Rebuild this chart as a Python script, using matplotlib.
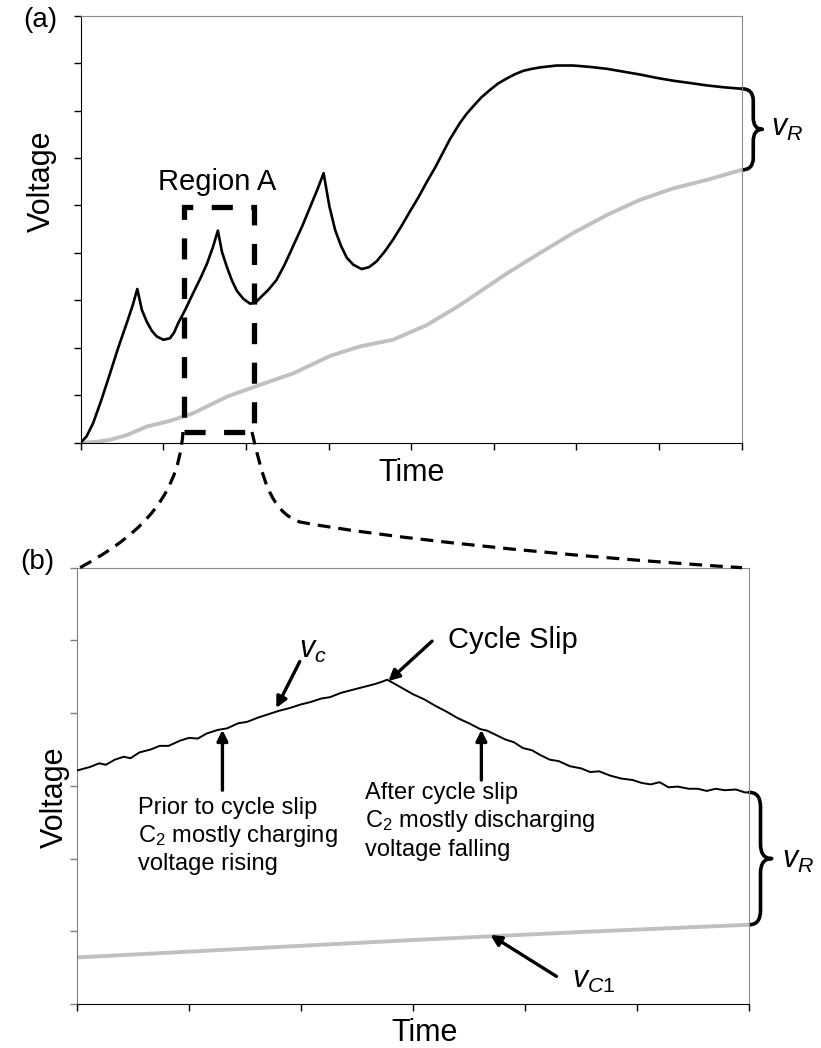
import matplotlib
matplotlib.use("Agg")
import matplotlib.pyplot as plt
from matplotlib.path import Path
from matplotlib.patches import PathPatch, Rectangle

plt.rcParams['font.family'] = ['Liberation Sans', 'DejaVu Sans']
plt.rcParams['mathtext.fontset'] = 'custom'
plt.rcParams['mathtext.rm'] = 'Liberation Sans'
plt.rcParams['mathtext.it'] = 'Liberation Sans:italic'

# (a) full transient: control voltage v_c (black) and v_C1 (grey)
t_a = [0, 0.07, 0.15, 0.25, 0.355, 0.45, 0.557, 0.63, 0.685, 0.74, 0.8, 0.86, 0.92, 1.0,
       1.08, 1.13, 1.18, 1.27, 1.36, 1.45, 1.53, 1.60, 1.66, 1.71, 1.77, 1.83, 1.89, 1.97,
       2.05, 2.12, 2.17, 2.27, 2.37, 2.47, 2.57, 2.68, 2.78, 2.87, 2.94, 3.01, 3.08, 3.15,
       3.22, 3.30, 3.40, 3.49, 3.58, 3.68, 3.78, 3.88, 3.98, 4.09, 4.19, 4.29, 4.38, 4.47,
       4.59, 4.67, 4.75, 4.85, 4.95, 5.05, 5.16, 5.26, 5.36, 5.46, 5.56, 5.76, 5.96, 6.17,
       6.37, 6.57, 6.77, 6.97, 7.17, 7.38, 7.58, 7.79, 8.0]
vc_a = [0, 0.13, 0.41, 0.9, 1.46, 1.98, 2.52, 2.9, 3.24, 2.8, 2.55, 2.36, 2.24, 2.17,
        2.2, 2.32, 2.52, 2.82, 3.15, 3.47, 3.78, 4.12, 4.47, 4.02, 3.7, 3.42, 3.2, 3.03,
        2.93, 2.96, 3.05, 3.22, 3.43, 3.76, 4.14, 4.56, 4.98, 5.36, 5.68, 4.98, 4.48, 4.15,
        3.9, 3.75, 3.66, 3.7, 3.82, 4.03, 4.28, 4.56, 4.86, 5.18, 5.5, 5.8, 6.1, 6.4,
        6.74, 6.93, 7.09, 7.28, 7.43, 7.57, 7.68, 7.77, 7.84, 7.88, 7.91, 7.95, 7.95, 7.92,
        7.88, 7.82, 7.76, 7.69, 7.63, 7.58, 7.53, 7.49, 7.46]
t_a1 = [0, 0.2, 0.355, 0.557, 0.8, 1.08, 1.36, 1.77, 2.17, 2.57, 3.02, 3.38, 3.78, 4.19,
        4.59, 5.16, 5.56, 5.96, 6.37, 6.77, 7.17, 7.58, 8.0]
vc1_a = [0, 0.02, 0.06, 0.16, 0.34, 0.46, 0.62, 0.97, 1.22, 1.46, 1.83, 2.03, 2.17, 2.48,
         2.9, 3.57, 4.0, 4.42, 4.8, 5.12, 5.36, 5.54, 5.75]

# (b) zoom on region A
t_b = [0.00, 0.12, 0.20, 0.26, 0.34, 0.42, 0.48, 0.56, 0.66, 0.74, 0.82, 0.92, 1.00, 1.08,
       1.16, 1.26, 1.34, 1.44, 1.52, 1.62, 1.72, 1.80, 1.90, 2.00, 2.08, 2.18, 2.26, 2.36,
       2.46, 2.56, 2.66, 2.72, 2.77, 2.84, 2.92, 3.00, 3.10, 3.20, 3.30, 3.40, 3.50, 3.60,
       3.66, 3.74, 3.82, 3.90, 3.98, 4.06, 4.14, 4.22, 4.30, 4.40, 4.50, 4.58, 4.66, 4.76,
       4.86, 4.96, 5.04, 5.12, 5.20, 5.28, 5.36, 5.46, 5.54, 5.62, 5.70, 5.78, 5.88, 5.96, 6.00]
vc_b = [3.21, 3.26, 3.31, 3.29, 3.36, 3.40, 3.38, 3.46, 3.50, 3.55, 3.55, 3.62, 3.66, 3.65,
        3.72, 3.77, 3.79, 3.86, 3.88, 3.94, 3.99, 4.03, 4.07, 4.12, 4.15, 4.20, 4.22, 4.28,
        4.32, 4.36, 4.40, 4.43, 4.46, 4.40, 4.33, 4.26, 4.19, 4.10, 4.02, 3.93, 3.86, 3.78,
        3.76, 3.70, 3.64, 3.60, 3.52, 3.49, 3.42, 3.36, 3.34, 3.27, 3.24, 3.19, 3.20, 3.14,
        3.10, 3.08, 3.04, 3.02, 3.05, 2.98, 2.99, 2.96, 2.96, 2.93, 2.96, 2.94, 2.95, 2.91, 2.91]
t_b1 = [0, 1.5, 3.0, 4.5, 6.0]
vc1_b = [0.64, 0.76, 0.88, 0.99, 1.09]

W, H = 821, 1048
fig = plt.figure(figsize=(W / 100, H / 100), dpi=100)


def fxy(px, py):
    return (px / W, 1 - py / H)


def style_axes(ax, left_color):
    for s in ['top', 'right']:
        ax.spines[s].set_color('#8c8c8c')
    ax.spines['bottom'].set_color('black')
    ax.spines['left'].set_color(left_color)
    ax.tick_params(direction='out', length=5, width=1, labelbottom=False, labelleft=False)
    ax.tick_params(axis='y', color=left_color)


def brace(ax, x0, xs, xt, ytop, ybot, r):
    ym = (ytop + ybot) / 2
    verts = [(x0, ytop), (xs, ytop), (xs, ytop - r), (xs, ym + r), (xs, ym), (xt, ym),
             (xs, ym), (xs, ym - r), (xs, ybot + r), (xs, ybot), (x0, ybot)]
    codes = [Path.MOVETO, Path.CURVE3, Path.CURVE3, Path.LINETO, Path.CURVE3, Path.CURVE3,
             Path.CURVE3, Path.CURVE3, Path.LINETO, Path.CURVE3, Path.CURVE3]
    ax.add_patch(PathPatch(Path(verts, codes), fill=False, lw=2.6, color='black',
                           clip_on=False, capstyle='round', joinstyle='round'))


arrow = dict(arrowstyle='-|>', color='black', lw=2.4, mutation_scale=16, shrinkA=0, shrinkB=0)

# ---- panel (a)
ax1 = fig.add_axes([80.7 / W, 1 - 442.7 / H, 661 / W, 427 / H])
ax1.plot(t_a1, vc1_a, color='#c0c0c0', lw=2.8, zorder=2)
ax1.plot(t_a, vc_a, color='black', lw=1.9, zorder=3)
ax1.set_xlim(0, 8)
ax1.set_ylim(0, 9)
ax1.set_xticks(range(9))
ax1.set_yticks(range(10))
style_axes(ax1, 'black')

ax1.add_patch(Rectangle((1.25, 0.23), 0.85, 4.74, fill=False, lw=3.8, color='black',
                        ls=(0, (4, 3.5)), clip_on=False, zorder=5))
ax1.text(1.65, 5.5, 'Region A', fontsize=21, ha='center', va='center')
brace(ax1, 8.0, 8.14, 8.25, 7.46, 5.75, 0.25)
ax1.text(8.36, 6.63, r'$v_R$', fontsize=22, ha='left', va='center')

# ---- panel (b)
ax2 = fig.add_axes([76.7 / W, 1 - 1004 / H, 672.6 / W, 436.3 / H])
ax2.plot(t_b1, vc1_b, color='#c0c0c0', lw=2.8, zorder=2)
ax2.plot(t_b, vc_b, color='black', lw=1.4, zorder=3)
ax2.set_xlim(0, 6)
ax2.set_ylim(0, 6)
ax2.set_xticks(range(7))
ax2.set_yticks(range(7))
style_axes(ax2, '#7f7f7f')

ax2.annotate('', xy=(1.78, 4.07), xytext=(1.99, 4.71), arrowprops=arrow)
ax2.text(2.11, 4.87, r'$v_c$', fontsize=22, ha='center', va='center')
ax2.annotate('', xy=(2.78, 4.44), xytext=(3.17, 4.99), arrowprops=arrow)
ax2.text(3.31, 5.01, 'Cycle Slip', fontsize=21, ha='left', va='center')

ax2.annotate('', xy=(1.30, 3.77), xytext=(1.30, 2.94), arrowprops=arrow)
for i, line in enumerate(['Prior to cycle slip', r'C$_2$ mostly charging', 'voltage rising']):
    ax2.text(0.55, 2.70 - i * 0.39, line, fontsize=17, ha='left', va='center')
ax2.annotate('', xy=(3.61, 3.77), xytext=(3.61, 3.08), arrowprops=arrow)
for i, line in enumerate(['After cycle slip', r'C$_2$ mostly discharging', 'voltage falling']):
    ax2.text(2.57, 2.90 - i * 0.39, line, fontsize=17, ha='left', va='center')

ax2.annotate('', xy=(3.69, 0.95), xytext=(4.28, 0.38), arrowprops=arrow)
ax2.text(4.42, 0.33, r'$v_{C\mathrm{1}}$', fontsize=22, ha='left', va='center')
brace(ax2, 6.0, 6.10, 6.20, 2.91, 1.09, 0.2)
ax2.text(6.29, 1.98, r'$v_R$', fontsize=22, ha='left', va='center')

# ---- figure labels
fig.text(*fxy(40, 20), '(a)', fontsize=20, ha='center', va='center')
fig.text(*fxy(37.5, 561.7), '(b)', fontsize=20, ha='center', va='center')
fig.text(*fxy(41.7, 181), 'Voltage', fontsize=22, rotation=90, ha='center', va='center')
fig.text(*fxy(55, 797), 'Voltage', fontsize=22, rotation=90, ha='center', va='center')
fig.text(*fxy(411.5, 473), 'Time', fontsize=22, ha='center', va='center')
fig.text(*fxy(425, 1033), 'Time', fontsize=22, ha='center', va='center')

# dashed zoom lines from region A down to panel (b)
left_pts = [fxy(183, 432), fxy(178, 505), fxy(130, 540), fxy(80, 567.7)]
right_pts = [fxy(252, 432), fxy(262, 475), fxy(270, 512), fxy(300, 522),
             fxy(380, 537), fxy(560, 556), fxy(742, 567.7)]
for pts in (left_pts, right_pts):
    codes = [Path.MOVETO] + [Path.CURVE4] * (len(pts) - 1)
    fig.add_artist(PathPatch(Path(pts, codes), transform=fig.transFigure, fill=False,
                             lw=2.3, color='black', ls=(0, (4, 2.5))))

fig.savefig('out.png', dpi=100)
